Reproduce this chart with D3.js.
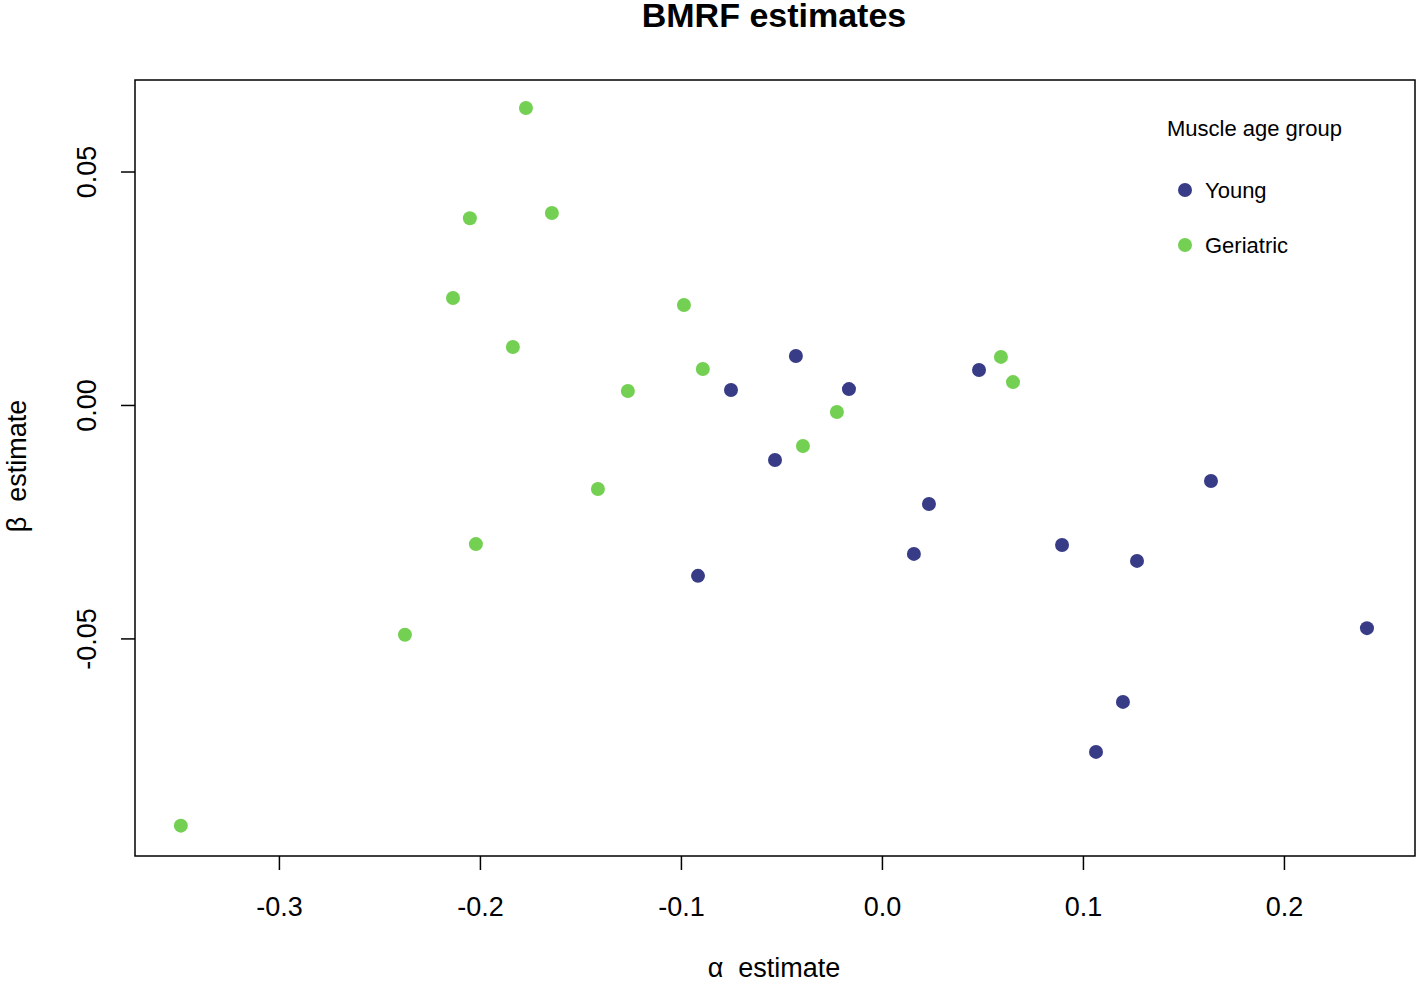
<!DOCTYPE html>
<html>
<head>
<meta charset="utf-8">
<script src="https://cdn.jsdelivr.net/npm/d3@7"></script>
<style>
  body { margin: 0; background: #fff; }
  text { font-family: "Liberation Sans", Arial, sans-serif; fill: #000; white-space: pre; }
</style>
</head>
<body>
<script>
// values
var youngAlpha = [-0.0751, -0.0428, -0.0164, -0.0532, -0.0915, 0.0483, 0.0234, 0.0159, 0.0896, 0.1269, 0.1637, 0.2413, 0.1199, 0.1065];
var youngBeta  = [0.0032, 0.0105, 0.0034, -0.0118, -0.0366, 0.0075, -0.0212, -0.0319, -0.0300, -0.0334, -0.0163, -0.0478, -0.0636, -0.0743];

var geriAlpha = [-0.1771, -0.2050, -0.1642, -0.2134, -0.1836, -0.0985, -0.0891, -0.1264, -0.1413, -0.2020, -0.2373, -0.3488, -0.0393, -0.0224, 0.0592, 0.0652];
var geriBeta  = [0.0636, 0.0400, 0.0411, 0.0229, 0.0124, 0.0214, 0.0077, 0.0030, -0.0180, -0.0298, -0.0492, -0.0901, -0.0088, -0.0015, 0.0103, 0.0049];

var xTicks = [-0.3, -0.2, -0.1, 0.0, 0.1, 0.2];
var yTicks = [-0.05, 0.00, 0.05];

var groups = ["Young", "Geriatric"];
var groupColors = ["#383c87", "#74d052"];

var W = 1416, H = 985;
// plot box (named so it doesn't clash with window.top)
var boxL = 135, boxR = 1415, boxT = 80, boxB = 856;

var svg = d3.select("body").append("svg")
    .attr("width", W)
    .attr("height", H);

var x = d3.scaleLinear().domain([-0.3716, 0.2652]).range([boxL, boxR]);
var y = d3.scaleLinear().domain([-0.0966, 0.0696]).range([boxB, boxT]);

// R prints a plain hyphen for minus
function fmt(p) {
    var f = d3.format("." + p + "f");
    return function(d) { return f(d).replace("\u2212", "-"); };
}

// box
svg.append("rect")
    .attr("x", boxL).attr("y", boxT)
    .attr("width", boxR - boxL).attr("height", boxB - boxT)
    .attr("fill", "none").attr("stroke", "#000").attr("stroke-width", 1.5);

// x axis
var xAxis = d3.axisBottom(x).tickValues(xTicks).tickSize(14).tickPadding(27)
    .tickFormat(fmt(1));
var gx = svg.append("g").attr("transform", "translate(0," + boxB + ")").call(xAxis);
gx.select(".domain").remove();
gx.selectAll("line").attr("stroke", "#000").attr("stroke-width", 1.5);
gx.selectAll("text").style("font-size", "27px").attr("dy", "0.71em");

// y axis, labels rotated like base R
var yAxis = d3.axisLeft(y).tickValues(yTicks).tickSize(14).tickFormat(fmt(2));
var gy = svg.append("g").attr("transform", "translate(" + boxL + ",0)").call(yAxis);
gy.select(".domain").remove();
gy.selectAll("line").attr("stroke", "#000").attr("stroke-width", 1.5);
gy.selectAll("text")
    .attr("x", null).attr("dy", null)
    .attr("text-anchor", "middle")
    .attr("transform", "translate(-39,0) rotate(-90)")
    .style("font-size", "27px");

// points
function drawGroup(xs, ys, color) {
    svg.append("g").selectAll("circle")
        .data(xs.map(function(d, i) { return [d, ys[i]]; }))
        .enter().append("circle")
        .attr("cx", function(d) { return x(d[0]); })
        .attr("cy", function(d) { return y(d[1]); })
        .attr("r", 7)
        .attr("fill", color);
}
drawGroup(geriAlpha, geriBeta, groupColors[1]);
drawGroup(youngAlpha, youngBeta, groupColors[0]);

// titles
svg.append("text").attr("x", 774).attr("y", 27)
    .attr("text-anchor", "middle")
    .style("font-size", "34px").style("font-weight", "bold")
    .text("BMRF estimates");

svg.append("text").attr("x", 774).attr("y", 977)
    .attr("text-anchor", "middle")
    .style("font-size", "27px")
    .text("\u03b1  estimate");

svg.append("text")
    .attr("transform", "translate(26,466) rotate(-90)")
    .attr("text-anchor", "middle")
    .style("font-size", "27px")
    .text("\u03b2  estimate");

// legend
var lg = svg.append("g");
lg.append("text").attr("x", 1167).attr("y", 136)
    .style("font-size", "22px").text("Muscle age group");
groups.forEach(function(g, i) {
    var cy = 190 + i * 55;
    lg.append("circle").attr("cx", 1185).attr("cy", cy).attr("r", 7).attr("fill", groupColors[i]);
    lg.append("text").attr("x", 1205).attr("y", cy + 8)
        .style("font-size", "22px").text(g);
});
</script>
</body>
</html>
